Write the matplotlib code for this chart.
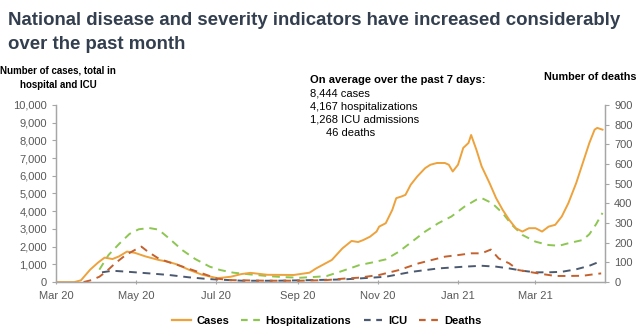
import pandas as pd
import matplotlib
matplotlib.use("Agg")
import matplotlib.pyplot as plt
import matplotlib.dates as mdates
from matplotlib.ticker import FuncFormatter, MultipleLocator

plt.rcParams['font.family'] = ['Liberation Sans', 'DejaVu Sans']

# values
case_dates = ["2020-03-01", "2020-03-15", "2020-03-20", "2020-03-27", "2020-04-02", "2020-04-07",
              "2020-04-13", "2020-04-18", "2020-04-24", "2020-04-30", "2020-05-08", "2020-05-18",
              "2020-05-25", "2020-06-01", "2020-06-10", "2020-06-20", "2020-06-27", "2020-07-02",
              "2020-07-12", "2020-07-20", "2020-07-27", "2020-08-09", "2020-08-29", "2020-09-10",
              "2020-09-15", "2020-09-27", "2020-10-05", "2020-10-12", "2020-10-17", "2020-10-21",
              "2020-10-26", "2020-10-31", "2020-11-02", "2020-11-07", "2020-11-12", "2020-11-15",
              "2020-11-19", "2020-11-22", "2020-11-26", "2020-12-01", "2020-12-07", "2020-12-11",
              "2020-12-16", "2020-12-22", "2020-12-25", "2020-12-28", "2021-01-01", "2021-01-05",
              "2021-01-09", "2021-01-11", "2021-01-15", "2021-01-19", "2021-01-25", "2021-01-30",
              "2021-02-04", "2021-02-09", "2021-02-14", "2021-02-19", "2021-02-24", "2021-03-01",
              "2021-03-06", "2021-03-11", "2021-03-16", "2021-03-21", "2021-03-26", "2021-04-01",
              "2021-04-06", "2021-04-11", "2021-04-15", "2021-04-17", "2021-04-21"]
cases = [0, 0, 100, 700, 1100, 1380,
         1300, 1450, 1720, 1650, 1450, 1250,
         1150, 1000, 700, 420, 300, 220,
         300, 450, 520, 410, 400, 530,
         770, 1250, 1900, 2320, 2260, 2375,
         2560, 2850, 3130, 3320, 4075, 4735,
         4830, 4920, 5490, 5960, 6430, 6620,
         6720, 6720, 6620, 6240, 6620, 7570,
         7850, 8300, 7470, 6530, 5590, 4740,
         4075, 3510, 3040, 2850, 3040, 3040,
         2850, 3130, 3230, 3700, 4450, 5590,
         6720, 7850, 8600, 8700, 8600]

hosp_dates = ["2020-04-03", "2020-04-10", "2020-04-18", "2020-04-26", "2020-05-03", "2020-05-11",
              "2020-05-18", "2020-05-26", "2020-06-05", "2020-06-15", "2020-06-26", "2020-07-04",
              "2020-07-14", "2020-07-27", "2020-08-09", "2020-08-21", "2020-09-03", "2020-09-16",
              "2020-09-23", "2020-10-03", "2020-10-13", "2020-10-18", "2020-10-28", "2020-11-07",
              "2020-11-17", "2020-11-27", "2020-12-07", "2020-12-17", "2020-12-27", "2021-01-06",
              "2021-01-15", "2021-01-19", "2021-01-27", "2021-02-04", "2021-02-11", "2021-02-19",
              "2021-03-01", "2021-03-11", "2021-03-19", "2021-03-26", "2021-04-06", "2021-04-11",
              "2021-04-16", "2021-04-21"]
hospitalizations = [700, 1530, 2150, 2720, 2980, 3050,
                    2960, 2470, 1810, 1300, 870, 680,
                    530, 430, 340, 280, 245, 300,
                    340, 580, 830, 960, 1110, 1280,
                    1715, 2280, 2850, 3320, 3700, 4260,
                    4650, 4740, 4450, 3890, 3230, 2660,
                    2280, 2090, 2050, 2190, 2375, 2700,
                    3250, 3900]

icu_dates = ["2020-04-05", "2020-04-13", "2020-04-25", "2020-05-11", "2020-05-26", "2020-06-10",
             "2020-06-25", "2020-07-21", "2020-08-16", "2020-09-11", "2020-10-06", "2020-10-17",
             "2020-11-07", "2020-11-27", "2020-12-17", "2021-01-06", "2021-01-19", "2021-01-30",
             "2021-02-09", "2021-02-19", "2021-03-01", "2021-03-11", "2021-03-21", "2021-04-01",
             "2021-04-11", "2021-04-20"]
icu = [550, 640, 580, 490, 400, 270,
       170, 75, 75, 110, 150, 200,
       300, 580, 770, 870, 920, 870,
       770, 640, 550, 550, 580, 720,
       920, 1190]

death_dates = ["2020-03-22", "2020-03-28", "2020-04-03", "2020-04-08", "2020-04-15", "2020-04-23",
               "2020-04-30", "2020-05-05", "2020-05-10", "2020-05-18", "2020-05-25", "2020-06-02",
               "2020-06-09", "2020-06-17", "2020-06-25", "2020-07-02", "2020-07-12", "2020-08-08",
               "2020-09-03", "2020-09-23", "2020-10-05", "2020-10-17", "2020-11-02", "2020-11-17",
               "2020-12-02", "2020-12-12", "2020-12-22", "2021-01-01", "2021-01-11", "2021-01-19",
               "2021-01-26", "2021-02-01", "2021-02-09", "2021-02-16", "2021-02-24", "2021-03-06",
               "2021-03-16", "2021-03-26", "2021-04-06", "2021-04-16", "2021-04-20"]
deaths = [0, 10, 27, 52, 95, 137,
          163, 180, 154, 120, 103, 86,
          70, 52, 33, 17, 10, 7,
          7, 10, 17, 22, 36, 61,
          95, 112, 129, 137, 146, 146,
          165, 120, 95, 61, 52, 41,
          31, 31, 32, 41, 44]

title_lines = ["National disease and severity indicators have increased considerably",
               "over the past month"]
summary_lines = ["8,444 cases", "4,167 hospitalizations", "1,268 ICU admissions"]

c_cases = '#EDA23C'
c_hosp = '#8DC651'
c_icu = '#4C5A70'
c_deaths = '#C4612E'
grey = '#595959'
spine = '#A6A6A6'

fig = plt.figure(figsize=(6.4, 3.35), dpi=100)
ax = fig.add_axes([0.0875, 0.158, 0.858, 0.529])
ax2 = ax.twinx()

ax.plot(pd.to_datetime(hosp_dates), hospitalizations, color=c_hosp, lw=1.4, dashes=(4, 3))
ax.plot(pd.to_datetime(icu_dates), icu, color=c_icu, lw=1.4, dashes=(4, 3))
ax.plot(pd.to_datetime(case_dates), cases, color=c_cases, lw=1.4)
ax2.plot(pd.to_datetime(death_dates), deaths, color=c_deaths, lw=1.4, dashes=(4, 3))

ax.set_xlim(pd.Timestamp("2020-03-01"), pd.Timestamp("2021-04-23"))
ax.set_ylim(0, 10000)
ax2.set_ylim(0, 900)
ax.yaxis.set_major_locator(MultipleLocator(1000))
ax2.yaxis.set_major_locator(MultipleLocator(100))
ax.yaxis.set_major_formatter(FuncFormatter(lambda v, p: f"{int(v):,}"))
ax.xaxis.set_major_locator(mdates.MonthLocator(bymonth=[1, 3, 5, 7, 9, 11]))
ax.xaxis.set_major_formatter(mdates.DateFormatter('%b %y'))

for a in (ax, ax2):
    a.spines['top'].set_visible(False)
    for s in ('left', 'right', 'bottom'):
        a.spines[s].set_color(spine)
        a.spines[s].set_linewidth(0.9)
ax.tick_params(axis='y', colors=spine, labelcolor=grey, labelsize=8, length=3, width=0.8)
ax2.tick_params(axis='y', colors=spine, labelcolor=grey, labelsize=8, length=3, width=0.8)
ax.tick_params(axis='x', colors=spine, labelcolor=grey, labelsize=8, length=3, width=0.8,
               direction='inout', pad=5)

# title, one text per line so the spacing can follow the reference
for i, line in enumerate(title_lines):
    fig.text(0.0125, 0.940 - i * 0.072, line, fontsize=13.4, fontweight='bold',
             color='#333F4F', va='center', ha='left')

fig.text(0.091, 0.767, "Number of cases, total in\nhospital and ICU", fontsize=7.0,
         fontweight='bold', ha='center', va='center', linespacing=1.55)
fig.text(0.994, 0.77, "Number of deaths", fontsize=7.8, fontweight='bold', ha='right', va='center')

fig.text(0.484, 0.762, "On average over the past 7 days:", fontsize=8, fontweight='bold',
         ha='left', va='center')
for i, line in enumerate(summary_lines):
    fig.text(0.484, 0.722 - i * 0.040, line, fontsize=8, ha='left', va='center')
fig.text(0.509, 0.602, "46 deaths", fontsize=8, ha='left', va='center')

handles = [plt.Line2D([], [], color=c_cases, lw=1.6),
           plt.Line2D([], [], color=c_hosp, lw=1.6, dashes=(3, 2.5)),
           plt.Line2D([], [], color=c_icu, lw=1.6, dashes=(3, 2.5)),
           plt.Line2D([], [], color=c_deaths, lw=1.6, dashes=(3, 2.5))]
leg = fig.legend(handles, ['Cases', 'Hospitalizations', 'ICU', 'Deaths'], loc='center',
                 bbox_to_anchor=(0.51, 0.042), ncol=4, frameon=False,
                 prop={'weight': 'bold', 'size': 8}, handlelength=1.7, columnspacing=1.1,
                 handletextpad=0.5)

fig.savefig('out.png', dpi=100)
